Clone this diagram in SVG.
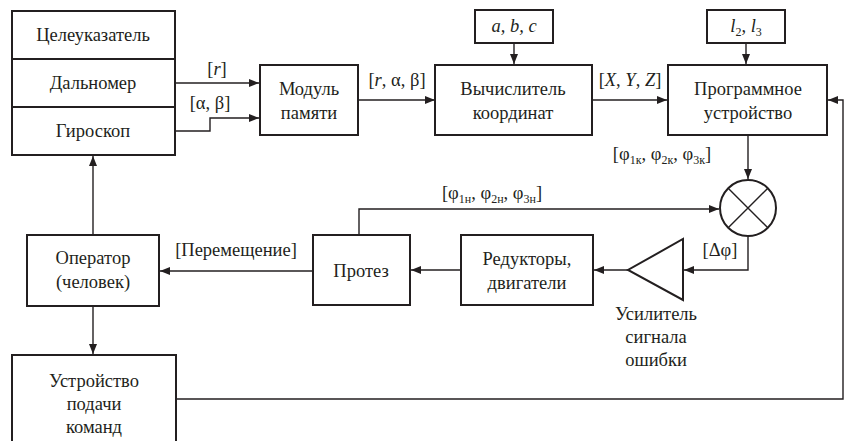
<svg xmlns="http://www.w3.org/2000/svg" width="851" height="441" viewBox="0 0 851 441" font-family="Liberation Serif, Times New Roman, serif">
<style>
.box{fill:#fff;stroke:#231f20;stroke-width:2}
.ln{fill:none;stroke:#231f20;stroke-width:1.4}
text{font-size:18.5px;fill:#231f20;text-anchor:middle}
.i{font-style:italic}
.s{font-size:12px}
</style>
<defs>
<marker id="a" viewBox="0 0 10 8" refX="10" refY="4" markerWidth="10" markerHeight="8" markerUnits="userSpaceOnUse" orient="auto">
<path d="M0,0L10,4L0,8z" fill="#231f20"/>
</marker>
</defs>
<rect width="851" height="441" fill="#fff"/>
<g id="connectors">
<path class="ln" d="M175,83H259" marker-end="url(#a)"/>
<path class="ln" d="M175,131H210V118H259" marker-end="url(#a)"/>
<path class="ln" d="M358,100H435" marker-end="url(#a)"/>
<path class="ln" d="M514,43V64" marker-end="url(#a)"/>
<path class="ln" d="M592,100H667" marker-end="url(#a)"/>
<path class="ln" d="M746,43V64" marker-end="url(#a)"/>
<path class="ln" d="M748,135V179" marker-end="url(#a)"/>
<path class="ln" d="M359,235V209H719" marker-end="url(#a)"/>
<path class="ln" d="M748,237V270H684" marker-end="url(#a)"/>
<path class="ln" d="M628,270H594" marker-end="url(#a)"/>
<path class="ln" d="M461,270H411" marker-end="url(#a)"/>
<path class="ln" d="M313,271H160" marker-end="url(#a)"/>
<path class="ln" d="M93,235V156" marker-end="url(#a)"/>
<path class="ln" d="M93,306V354" marker-end="url(#a)"/>
<path class="ln" d="M176,399H843V100H828" marker-end="url(#a)"/>
</g>
<g id="stack">
<rect class="box" x="12" y="11" width="163" height="144"/>
<path class="box" d="M12,59H175M12,107H175"/>
<text x="93" y="41">Целеуказатель</text>
<text x="93" y="89">Дальномер</text>
<text x="93" y="137">Гироскоп</text>
</g>
<g id="memory">
<rect class="box" x="260" y="65" width="98" height="70"/>
<text x="309" y="95">Модуль</text>
<text x="309" y="119">памяти</text>
</g>
<g id="abc">
<rect class="box" x="475" y="10" width="78" height="33"/>
<text class="i" x="514" y="32">a, b, c</text>
</g>
<g id="calc">
<rect class="box" x="435" y="65" width="157" height="70"/>
<text x="513" y="95">Вычислитель</text>
<text x="513" y="119">координат</text>
</g>
<g id="l23">
<rect class="box" x="707" y="10" width="78" height="33"/>
<text x="746" y="32"><tspan class="i">l</tspan><tspan class="s" dy="4">2</tspan><tspan dy="-4">, </tspan><tspan class="i">l</tspan><tspan class="s" dy="4">3</tspan></text>
</g>
<g id="program">
<rect class="box" x="668" y="65" width="159" height="70"/>
<text x="748" y="95">Программное</text>
<text x="748" y="119">устройство</text>
</g>
<g id="comparator">
<circle class="box" cx="748" cy="208" r="28"/>
<path class="ln" d="M728.2,188.2L767.8,227.8M767.8,188.2L728.2,227.8"/>
</g>
<g id="amplifier">
<path class="box" d="M683,239V300L628,270z"/>
<text x="656" y="320">Усилитель</text>
<text x="656" y="343">сигнала</text>
<text x="656" y="366">ошибки</text>
</g>
<g id="reducers">
<rect class="box" x="461" y="235" width="132" height="70"/>
<text x="527" y="265">Редукторы,</text>
<text x="527" y="289">двигатели</text>
</g>
<g id="prosthesis">
<rect class="box" x="313" y="235" width="97" height="70"/>
<text x="361" y="277">Протез</text>
</g>
<g id="operator">
<rect class="box" x="27" y="235" width="132" height="71"/>
<text x="93" y="264">Оператор</text>
<text x="93" y="288">(человек)</text>
</g>
<g id="command">
<rect class="box" x="12" y="355" width="164" height="100"/>
<text x="94" y="387">Устройство</text>
<text x="94" y="410">подачи</text>
<text x="94" y="433">команд</text>
</g>
<g id="labels">
<text x="217" y="75">[<tspan class="i">r</tspan>]</text>
<text x="210" y="109">[α, β]</text>
<text x="397" y="86">[<tspan class="i">r</tspan>, α, β]</text>
<text x="630" y="86">[<tspan class="i">X</tspan>, <tspan class="i">Y</tspan>, <tspan class="i">Z</tspan>]</text>
<text x="662" y="160">[φ<tspan class="s" dy="4">1к</tspan><tspan dy="-4">, φ</tspan><tspan class="s" dy="4">2к</tspan><tspan dy="-4">, φ</tspan><tspan class="s" dy="4">3к</tspan><tspan dy="-4">]</tspan></text>
<text x="492" y="199">[φ<tspan class="s" dy="4">1н</tspan><tspan dy="-4">, φ</tspan><tspan class="s" dy="4">2н</tspan><tspan dy="-4">, φ</tspan><tspan class="s" dy="4">3н</tspan><tspan dy="-4">]</tspan></text>
<text x="720" y="256">[Δφ]</text>
<text x="236" y="256">[Перемещение]</text>
</g>
</svg>
